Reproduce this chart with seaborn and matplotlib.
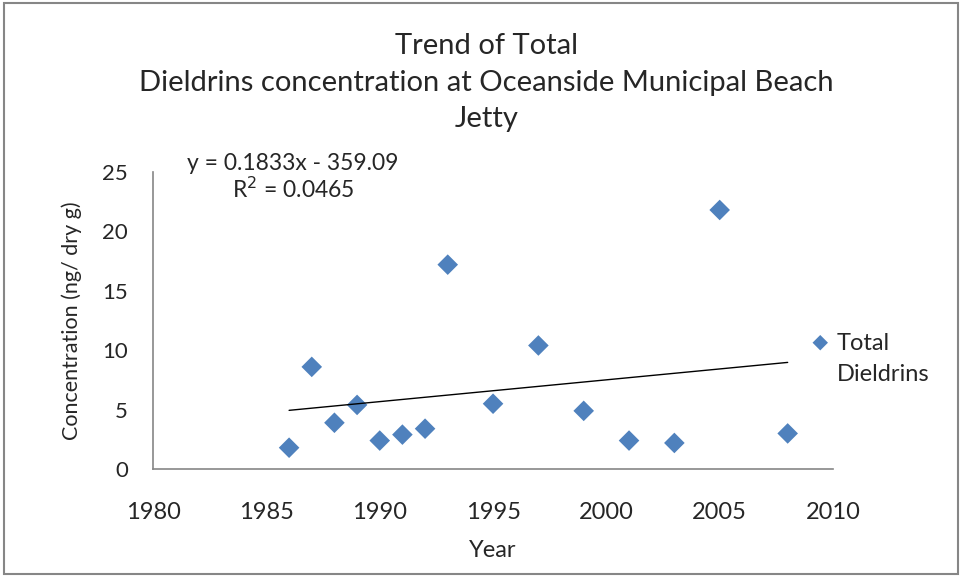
import numpy as np
import pandas as pd
import matplotlib
matplotlib.use('Agg')
import matplotlib.pyplot as plt
import seaborn as sns

# data
years = [1986, 1987, 1988, 1989, 1990, 1991, 1992, 1993, 1995, 1997,
         1999, 2001, 2003, 2005, 2008]
conc = [1.8, 8.6, 3.9, 5.4, 2.4, 2.9, 3.4, 17.2, 5.5, 10.4,
        4.9, 2.4, 2.2, 21.8, 3.0]
slope = 0.1833
intercept = -359.09
r_squared = 0.0465
series_name = 'Total\nDieldrins'

df = pd.DataFrame({'Year': years, 'Concentration': conc})
trend = pd.DataFrame({'Year': [min(years), max(years)]})
trend['Concentration'] = slope * trend['Year'] + intercept

sns.set_style('white')
plt.rcParams['font.family'] = ['Lato', 'DejaVu Sans']

fig = plt.figure(figsize=(9.63, 5.77), dpi=100)
ax = fig.add_axes([0.159, 0.187, 0.706, 0.515])

sns.scatterplot(data=df, x='Year', y='Concentration', marker='D', s=110,
                color='#4F81BD', edgecolor='none', ax=ax, label=series_name)
sns.lineplot(data=trend, x='Year', y='Concentration', color='black',
             linewidth=1, ax=ax)

ax.set_xlim(1980, 2010)
ax.set_ylim(0, 25)
ax.set_xticks(range(1980, 2011, 5))
ax.set_yticks(range(0, 26, 5))
ax.tick_params(axis='x', labelsize=17, length=0, pad=24)
ax.tick_params(axis='y', labelsize=16, length=0, pad=18)
for s in ['top', 'right']:
    ax.spines[s].set_visible(False)
for s in ['left', 'bottom']:
    ax.spines[s].set_color('#868686')
    ax.spines[s].set_linewidth(1.2)
ax.set_xlabel('Year', fontsize=17)
ax.set_ylabel('Concentration (ng/ dry g)', fontsize=15.5)
ax.xaxis.set_label_coords(0.5, -0.24)
ax.yaxis.set_label_coords(-0.105, 0.5)

fig.text(0.505, 0.857,
         'Trend of Total\nDieldrins concentration at Oceanside Municipal Beach\nJetty',
         fontsize=21, linespacing=1.52, ha='center', va='center')

leg = ax.legend(loc='center left', bbox_to_anchor=(0.95, 0.37), frameon=False,
                fontsize=17, handlelength=0.8, handletextpad=0.3,
                borderpad=0, markerscale=0.75)
leg.get_texts()[0].set_linespacing(1.6)
# put the legend marker beside the first line of the label, as in the original
h = leg.legend_handles[0]
off = h.get_offsets()
h.set_offsets(off + np.array([0, 13.5]))

ax.text(0.206, 1.03, f'y = {slope}x - {abs(intercept)}', transform=ax.transAxes,
        fontsize=16.5, ha='center', va='center')
ax.text(0.206, 0.943, f'R$^2$ = {r_squared}', transform=ax.transAxes,
        fontsize=16.5, ha='center', va='center')

fig.patches.append(plt.Rectangle((0.004, 0.006), 0.991, 0.988, transform=fig.transFigure,
                                 fill=False, edgecolor='#868686', linewidth=1.5))

fig.savefig('out.png', dpi=100)
